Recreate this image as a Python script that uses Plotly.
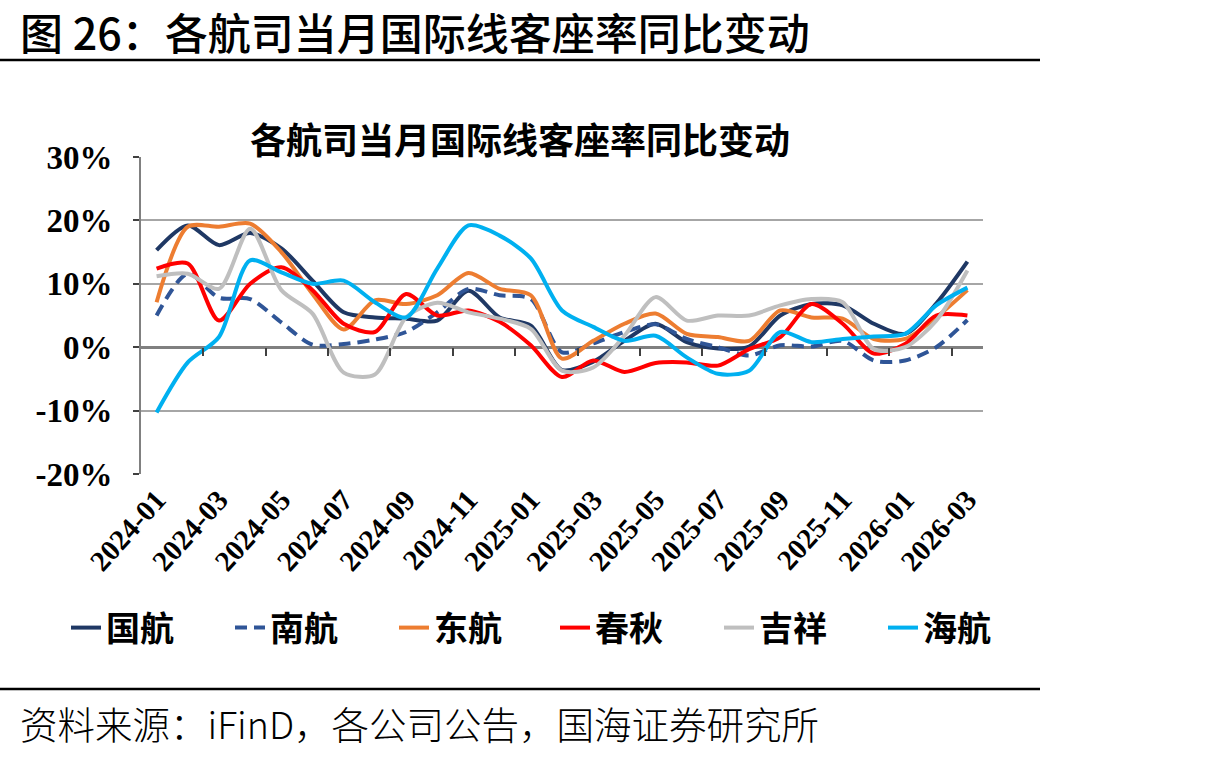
import plotly.graph_objects as go

months = ["2024-01","2024-02","2024-03","2024-04","2024-05","2024-06","2024-07","2024-08","2024-09",
          "2024-10","2024-11","2024-12","2025-01","2025-02","2025-03","2025-04","2025-05","2025-06",
          "2025-07","2025-08","2025-09","2025-10","2025-11","2025-12","2026-01","2026-02","2026-03"]

air_china = [15.3,19.2,16.1,18.0,15.6,10.5,5.5,4.7,4.5,4.2,8.9,4.7,3.4,-3.6,-2.3,1.0,3.7,0.8,-0.2,0.1,5.0,6.8,6.6,3.7,2.1,6.9,13.5]
china_southern = [5.0,11.6,7.8,7.6,3.9,0.4,0.5,1.2,2.4,5.5,9.2,8.2,7.6,-0.8,0.6,2.4,3.6,1.3,0.0,-1.3,0.3,0.1,1.0,-2.1,-2.1,0.0,4.3]
china_eastern = [7.1,19.0,19.0,19.5,15.0,8.4,2.8,7.4,6.8,8.2,11.7,9.2,8.2,-1.8,1.0,3.7,5.3,2.1,1.6,1.0,5.8,4.7,4.5,1.3,1.3,4.7,9.0]
spring = [12.4,13.2,4.2,10.0,12.6,9.0,3.7,2.4,8.4,5.0,5.8,4.0,0.3,-4.7,-2.1,-3.9,-2.5,-2.4,-2.9,-0.3,1.6,6.8,3.7,-1.0,0.5,5.0,5.0]
juneyao = [11.2,11.6,9.2,18.7,9.0,5.3,-4.0,-4.3,4.7,7.0,5.5,4.5,2.9,-3.7,-3.2,1.8,7.9,4.2,5.0,5.0,6.6,7.6,7.1,-0.3,0.0,4.2,12.1]
hainan = [-10.3,-2.4,1.6,13.7,11.8,10.0,10.5,7.1,4.7,12.4,19.2,17.6,14.0,5.8,3.2,1.0,1.8,-1.6,-4.2,-3.7,2.4,0.8,1.3,1.7,2.1,6.6,9.4]

series_names = ["国航","南航","东航","春秋","吉祥","海航"]
series_values = [air_china, china_southern, china_eastern, spring, juneyao, hainan]
series_colors = ["#1F3864","#2F5597","#ED7D31","#FF0000","#BFBFBF","#00B0F0"]
series_dash = ["solid","12px,7px","solid","solid","solid","solid"]
series_legend = ["legend","legend","legend","legend2","legend2","legend2"]

y_ticks = [-20,-10,0,10,20,30]
y_ticktext = ["-20%","-10%","0%","10%","20%","30%"]

x_idx = list(range(len(months)))
label_idx = x_idx[::2]
label_text = months[::2]
boundary_ticks = [i + 1.5 for i in x_idx[::2][:-1]]

W_PLOT, H_PLOT, L, B_TOP = 842, 317, 141, 474
def px_x(p):
    return (p - L) / W_PLOT
def px_y(p):
    return (B_TOP - p) / H_PLOT

fig = go.Figure()
for name, vals, col, dsh, lg in zip(series_names, series_values, series_colors, series_dash, series_legend):
    fig.add_trace(go.Scatter(
        x=x_idx, y=vals, name=name, mode="lines", legend=lg,
        line=dict(color=col, width=4, dash=dsh, shape="spline", smoothing=0.8),
        hoverinfo="skip",
    ))

# invisible trace carrying the boundary ticks on the 0% axis
fig.add_trace(go.Scatter(x=[0], y=[0], xaxis="x2", mode="lines", showlegend=False,
                         line=dict(width=0), hoverinfo="skip"))

legend_font = dict(family="Noto Sans CJK SC", size=34, color="black", weight="bold")
legend_common = dict(orientation="h", xanchor="left", yanchor="middle", y=px_y(628),
                     font=legend_font, entrywidth=119, entrywidthmode="pixels",
                     itemwidth=30, bgcolor="rgba(0,0,0,0)", traceorder="normal")

LEG_X0 = 66
fig.update_layout(
    width=1214, height=757,
    margin=dict(l=141, r=231, t=157, b=283),
    paper_bgcolor="white", plot_bgcolor="white",
    showlegend=True,
    legend=dict(x=px_x(LEG_X0), **legend_common),
    legend2=dict(x=px_x(LEG_X0 + 3 * 163), **legend_common),
    xaxis=dict(
        range=[-0.5, len(months) - 0.5], tickmode="array", tickvals=label_idx, ticktext=label_text,
        tickangle=-48, tickfont=dict(family="Liberation Serif, Times New Roman, serif", size=29, color="black", weight="bold"),
        showgrid=False, zeroline=False, showline=False, ticks="", ticklabelstandoff=2,
    ),
    xaxis2=dict(
        range=[-0.5, len(months) - 0.5], overlaying="x", anchor="free", position=0.4, side="bottom",
        tickmode="array", tickvals=boundary_ticks, ticks="outside", ticklen=8, tickwidth=2,
        tickcolor="#404040", showticklabels=False, showgrid=False, zeroline=False, showline=False,
    ),
    yaxis=dict(
        range=[-20, 30], tickmode="array", tickvals=y_ticks, ticktext=y_ticktext,
        tickfont=dict(family="Liberation Serif, Times New Roman, serif", size=33, color="black", weight="bold"),
        showgrid=True, gridcolor="#A6A6A6", gridwidth=2,
        zeroline=True, zerolinecolor="#808080", zerolinewidth=3,
        showline=True, linecolor="#808080", linewidth=2,
        ticks="outside", ticklen=6, tickwidth=2, tickcolor="#404040", ticklabelstandoff=14,
    ),
)

fig.add_annotation(xref="paper", yref="paper", x=px_x(520), y=px_y(138),
                   text="各航司当月国际线客座率同比变动", showarrow=False,
                   font=dict(family="Noto Sans CJK SC", size=36, color="black", weight="bold"),
                   xanchor="center", yanchor="middle")

fig.add_annotation(xref="paper", yref="paper", x=px_x(18), y=px_y(31),
                   text="图 26：各航司当月国际线客座率同比变动", showarrow=False,
                   font=dict(family="Noto Sans CJK SC", size=43, color="black", weight=500),
                   xanchor="left", yanchor="middle")

fig.add_annotation(xref="paper", yref="paper", x=px_x(18), y=px_y(722),
                   text="资料来源：iFinD，各公司公告，国海证券研究所", showarrow=False,
                   font=dict(family="Noto Sans CJK SC", size=37.5, color="black", weight=300),
                   xanchor="left", yanchor="middle")

for ypix in (60, 689):
    fig.add_shape(type="line", xref="paper", yref="paper",
                  x0=px_x(0), x1=px_x(1040), y0=px_y(ypix), y1=px_y(ypix),
                  line=dict(color="black", width=2.5))

fig.write_html("out.html")
